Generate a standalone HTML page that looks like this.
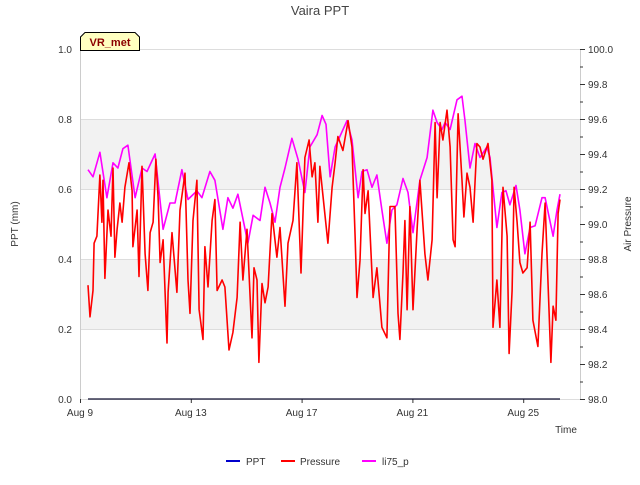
<!DOCTYPE html>
<html><head><meta charset="utf-8"><style>
body{margin:0;background:#fff;}
svg text{font-family:"Liberation Sans","DejaVu Sans",sans-serif;}
</style></head><body>
<svg id="chart" width="640" height="480" viewBox="0 0 640 480" xmlns="http://www.w3.org/2000/svg">
<rect width="640" height="480" fill="#fff"/>
<text x="320" y="15" text-anchor="middle" font-size="13" fill="#444">Vaira PPT</text>
<g id="plot"></g>
<text transform="translate(18,224) rotate(-90)" text-anchor="middle" font-size="10" fill="#333">PPT (mm)</text>
<text transform="translate(631,224) rotate(-90)" text-anchor="middle" font-size="10" fill="#333">Air Pressure</text>
<text x="566" y="433" text-anchor="middle" font-size="10" fill="#333">Time</text>
<g>
<path d="M80.5,50.5 L80.5,37 L85,32.5 L135,32.5 L139.5,37 L139.5,50.5 Z" fill="#ffffc0" stroke="#000" stroke-width="1"/>
<text x="110" y="46" text-anchor="middle" font-size="11" font-weight="bold" fill="#8b0000">VR_met</text>
</g>
<g>
<g><line x1="226" y1="461" x2="240" y2="461" stroke="#0000cc" stroke-width="2"/><text x="246" y="465" font-size="10" fill="#333">PPT</text></g>
<g><line x1="281" y1="461" x2="295" y2="461" stroke="#ff0000" stroke-width="2"/><text x="300" y="465" font-size="10" fill="#333">Pressure</text></g>
<g><line x1="362" y1="461" x2="376" y2="461" stroke="#ff00ff" stroke-width="2"/><text x="382" y="465" font-size="10" fill="#333">li75_p</text></g>
</g>
</svg>
<script>
const xTickLabels=["Aug 9","Aug 13","Aug 17","Aug 21","Aug 25"];
const xTickDays=[0,4,8,12,16];
const leftTicks=[0,0.2,0.4,0.6,0.8,1.0];
const rightTicks=[98.0,98.2,98.4,98.6,98.8,99.0,99.2,99.4,99.6,99.8,100.0];
const pptDays=[0.29,17.33];
const pptValues=[0,0];
const liDays=[0.29,0.47,0.72,0.97,1.19,1.37,1.55,1.73,1.99,2.24,2.42,2.71,3.00,3.25,3.43,3.68,3.90,4.22,4.40,4.69,4.87,5.16,5.34,5.52,5.70,6.06,6.25,6.50,6.68,6.86,7.04,7.22,7.40,7.65,7.87,8.12,8.30,8.56,8.74,8.88,9.03,9.21,9.64,9.82,10.04,10.18,10.36,10.54,10.72,10.90,11.08,11.26,11.44,11.66,11.84,12.02,12.27,12.53,12.74,12.89,13.07,13.18,13.36,13.61,13.79,13.90,14.08,14.26,14.44,14.69,14.80,15.05,15.23,15.38,15.52,15.74,15.88,16.06,16.25,16.43,16.68,16.79,17.08,17.22,17.33];
const liValues=[99.31,99.27,99.41,99.15,99.35,99.32,99.43,99.45,99.15,99.32,99.30,99.40,98.97,99.12,99.12,99.31,99.14,99.19,99.15,99.30,99.25,98.97,99.15,99.09,99.17,98.89,99.05,99.02,99.21,99.12,99.01,99.21,99.32,99.49,99.37,99.18,99.44,99.51,99.62,99.57,99.27,99.44,99.59,99.48,99.15,99.30,99.31,99.21,99.28,99.08,98.89,99.08,99.11,99.26,99.18,98.95,99.25,99.38,99.65,99.58,99.54,99.58,99.54,99.71,99.73,99.59,99.32,99.46,99.38,99.44,99.38,98.98,99.18,99.19,99.11,99.22,99.08,98.83,98.98,98.99,99.15,99.15,98.93,99.08,99.17];
const presDays=[0.29,0.36,0.47,0.51,0.61,0.72,0.79,0.83,0.90,1.01,1.12,1.19,1.26,1.34,1.44,1.52,1.62,1.77,1.88,1.91,2.06,2.13,2.24,2.35,2.45,2.53,2.64,2.74,2.82,2.89,3.00,3.14,3.18,3.32,3.50,3.61,3.79,3.90,3.97,4.08,4.22,4.30,4.44,4.51,4.62,4.77,4.87,4.95,5.13,5.23,5.38,5.52,5.67,5.78,5.88,6.03,6.21,6.28,6.39,6.46,6.57,6.68,6.79,6.93,7.11,7.22,7.40,7.51,7.69,7.83,7.98,8.12,8.27,8.38,8.48,8.59,8.66,8.95,9.10,9.21,9.31,9.49,9.68,9.82,9.93,10.00,10.11,10.22,10.29,10.40,10.58,10.72,10.90,11.08,11.19,11.37,11.48,11.55,11.66,11.73,11.81,11.91,12.02,12.17,12.27,12.45,12.56,12.71,12.82,12.89,13.00,13.10,13.25,13.36,13.47,13.54,13.65,13.79,13.86,13.97,14.08,14.19,14.33,14.44,14.55,14.73,14.87,14.91,15.05,15.16,15.27,15.42,15.49,15.60,15.67,15.78,15.88,15.99,16.14,16.25,16.35,16.53,16.68,16.79,16.93,17.00,17.08,17.18,17.26,17.33];
const presValues=[98.65,98.47,98.62,98.89,98.93,99.28,99.01,99.25,98.69,99.08,98.93,99.32,98.81,98.97,99.12,99.01,99.21,99.35,99.19,98.87,99.08,98.70,99.33,98.83,98.62,98.95,99.01,99.37,99.15,98.78,98.91,98.32,98.61,98.95,98.61,99.08,99.29,98.68,98.49,99.02,99.25,98.51,98.34,98.87,98.64,99.02,99.14,98.62,98.68,98.64,98.28,98.38,98.58,99.01,98.68,98.97,98.35,98.75,98.68,98.21,98.66,98.55,98.64,99.06,98.81,98.98,98.53,98.89,99.02,99.35,98.72,99.38,99.48,99.27,99.35,99.01,99.33,98.89,99.21,99.35,99.50,99.42,99.59,99.44,98.93,98.58,98.79,99.31,99.06,99.19,98.58,98.75,98.41,98.35,99.10,99.10,98.49,98.34,98.72,99.02,98.51,99.10,98.51,98.97,99.25,98.83,98.68,98.91,99.58,99.15,99.58,99.48,99.65,99.44,98.91,98.87,99.63,99.25,99.04,99.29,99.21,99.01,99.46,99.44,99.37,99.46,99.25,98.41,98.68,98.41,99.21,98.93,98.26,98.62,99.21,99.01,98.78,98.72,98.75,99.01,98.45,98.30,98.83,99.12,98.51,98.21,98.53,98.45,99.06,99.14];

const X0=80,X1=580,Y0=399,Y1=49,PX_PER_DAY=27.7;
const xs=d=>X0+d*PX_PER_DAY;
const yl=v=>Y0-(v-0)/(1-0)*(Y0-Y1);
const yr=v=>Y0-(v-98)/(100-98)*(Y0-Y1);
const NS="http://www.w3.org/2000/svg";
const plot=document.getElementById('plot');
function mk(tag,attrs,parent){const e=document.createElementNS(NS,tag);for(const k in attrs)e.setAttribute(k,attrs[k]);(parent||plot).appendChild(e);return e;}

// bands
for(let i=0;i<leftTicks.length-1;i++){
  if(i%2===1){
    const b=mk('rect',{x:X0,y:yl(leftTicks[i+1]),width:X1-X0,height:yl(leftTicks[i])-yl(leftTicks[i+1]),fill:'#f2f2f2'});
    
    
  }
}
leftTicks.forEach(v=>{
  const g=mk('line',{x1:X0,x2:X1,y1:yl(v)+0.5,y2:yl(v)+0.5,stroke:'#dddddd','stroke-width':1});
  
  
  const t=mk('text',{x:X0-8,y:yl(v)+4,'text-anchor':'end','font-size':10,fill:'#333'});
  t.textContent=v.toFixed(1);
  
  
});
// left spine
const ls=mk('line',{x1:X0+0.5,x2:X0+0.5,y1:Y1,y2:Y0,stroke:'#cccccc','stroke-width':1});


// right axis
const rs=mk('line',{x1:X1+0.5,x2:X1+0.5,y1:Y1,y2:Y0,stroke:'#cccccc','stroke-width':1});


rightTicks.forEach((v,i)=>{
  const tk=mk('line',{x1:X1,x2:X1+5,y1:yr(v)+0.5,y2:yr(v)+0.5,stroke:'#333','stroke-width':1});
  
  
  if(i<rightTicks.length-1){
    const m=(v+rightTicks[i+1])/2;
    const mt=mk('line',{x1:X1,x2:X1+3,y1:yr(m)+0.5,y2:yr(m)+0.5,stroke:'#333','stroke-width':1});
    
    
  }
  const t=mk('text',{x:X1+8,y:yr(v)+4,'font-size':10,fill:'#333'});
  t.textContent=v.toFixed(1);
  
  
});
// x ticks
xTickDays.forEach((d,i)=>{
  const tk=mk('line',{x1:xs(d)+0.5,x2:xs(d)+0.5,y1:Y0,y2:Y0+4,stroke:'#333','stroke-width':1});
  
  
  const t=mk('text',{x:xs(d),y:Y0+17,'text-anchor':'middle','font-size':10,fill:'#333'});
  t.textContent=xTickLabels[i];
  
  
});
function path(days,vals,yf){return days.map((d,i)=>(i?'L':'M')+xs(d).toFixed(1)+','+yf(vals[i]).toFixed(1)).join(' ');}
const pl=mk('path',{d:path(liDays,liValues,yr),fill:'none',stroke:'#ff00ff','stroke-width':1.6,'stroke-linejoin':'round'});


const pp=mk('path',{d:path(presDays,presValues,yr),fill:'none',stroke:'#ff0000','stroke-width':1.6,'stroke-linejoin':'round'});


const pt=mk('path',{d:path(pptDays,pptValues,yl),fill:'none',stroke:'#101030','stroke-width':1.2});


</script>
</body></html>
